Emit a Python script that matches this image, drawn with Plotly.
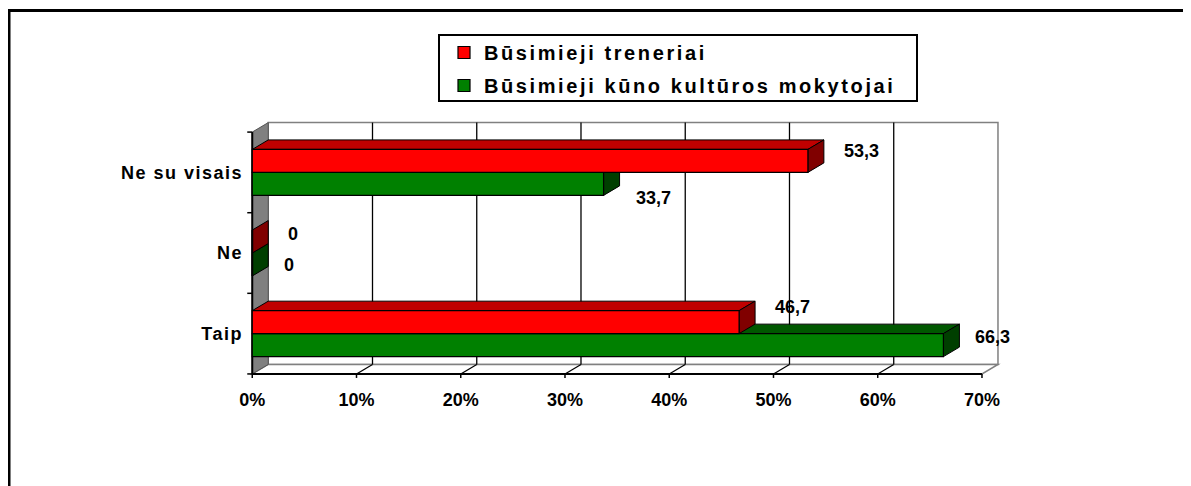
import plotly.graph_objects as go

# ---- data ----
categories = ["Taip", "Ne", "Ne su visais"]
treneriai = [46.7, 0, 53.3]          # Būsimieji treneriai (red)
mokytojai = [66.3, 0, 33.7]          # Būsimieji kūno kultūros mokytojai (green)
series_names = ["Būsimieji treneriai", "Būsimieji kūno kultūros mokytojai"]
x_ticks = [0, 10, 20, 30, 40, 50, 60, 70]

# ---- layout geometry ----
W, H = 1191, 486
OFF = 8                      # page body margin of the html page
L, T, PW, PH = 246 - OFF, 120 - OFF, 761, 262
XR = [-0.6, 72.4]
YR = [-0.6, 2.65]
XMAX = 70
px_x = PW / (XR[1] - XR[0])
px_y = PH / (YR[1] - YR[0])
DX = 16 / px_x          # depth offset in data units
DY = 9.5 / px_y
BW = 0.285              # bar thickness (category units)
LO, HI = -0.5, 2.5      # category boundaries

FONT = "Liberation Sans, Arial, sans-serif"
RED, RED_TOP, RED_SIDE = "#FF0000", "#C00000", "#800000"
GRN, GRN_TOP, GRN_SIDE = "#008000", "#005800", "#003F00"
GRAY = "#808080"


def pxx(p):
    """page x pixel -> paper coordinate"""
    return (p - OFF - L) / PW


def pxy(p):
    """page y pixel -> paper coordinate"""
    return (T + PH - (p - OFF)) / PH


def poly(pts, fill, line="black", width=1, layer="below"):
    d = "M " + " L ".join(f"{x},{y}" for x, y in pts) + " Z"
    return dict(type="path", path=d, xref="x", yref="y", fillcolor=fill,
                line=dict(color=line, width=width), layer=layer)


def seg(x0, y0, x1, y1, color="black", width=1, layer="below"):
    return dict(type="line", x0=x0, y0=y0, x1=x1, y1=y1, xref="x", yref="y",
                line=dict(color=color, width=width), layer=layer)


shapes = []
# back wall
shapes.append(poly([(DX, LO + DY), (XMAX + DX, LO + DY), (XMAX + DX, HI + DY), (DX, HI + DY)],
                   "white", GRAY, 1.5))
# floor
shapes.append(poly([(0, LO), (XMAX, LO), (XMAX + DX, LO + DY), (DX, LO + DY)], "white", GRAY, 1.5))
# back-wall gridlines and floor lines
for t in x_ticks[1:-1]:
    shapes.append(seg(t + DX, LO + DY, t + DX, HI + DY, "black", 1.3))
    shapes.append(seg(t, LO, t + DX, LO + DY, "black", 1.3))
# left wall
shapes.append(poly([(0, LO), (0, HI), (DX, HI + DY), (DX, LO + DY)], GRAY, "#555555", 1))

# 3D faces of bars (green first, then red)
for vals, top, side, off in ((mokytojai, GRN_TOP, GRN_SIDE, -BW), (treneriai, RED_TOP, RED_SIDE, 0.0)):
    for i, v in enumerate(vals):
        y0 = i + off
        y1 = y0 + BW
        if v > 0:
            shapes.append(poly([(0, y1), (v, y1), (v + DX, y1 + DY), (DX, y1 + DY)], top))
        shapes.append(poly([(v, y0), (v, y1), (v + DX, y1 + DY), (v + DX, y0 + DY)], side))

# axis lines and ticks
shapes.append(seg(0, LO, XMAX, LO, "black", 2))
shapes.append(seg(0, LO, 0, HI, "black", 2))
for t in x_ticks:
    shapes.append(seg(t, LO, t, LO - 4 / px_y, "black", 1.5))
for b in [LO, 0.5, 1.5, HI]:
    shapes.append(seg(-5 / px_x, b, 0, b, "black", 1.5))

# outer frame and legend box (paper)
shapes.append(dict(type="rect", xref="paper", yref="paper", x0=pxx(9), y0=pxy(10.5), x1=pxx(1210),
                   y1=pxy(520), line=dict(color="black", width=3), layer="below"))
shapes.append(dict(type="rect", xref="paper", yref="paper", x0=pxx(439), y0=pxy(35), x1=pxx(917),
                   y1=pxy(101), line=dict(color="black", width=2), fillcolor="rgba(0,0,0,0)",
                   layer="above"))

fig = go.Figure()
fig.add_trace(go.Bar(
    y=list(range(len(categories))), x=mokytojai, orientation="h", width=BW, offset=-BW,
    marker=dict(color=GRN, line=dict(color="black", width=1.2)),
    name=f'<span style="letter-spacing:2.6px">{series_names[1]}</span>',
    legendgroup="g", legendrank=2, hoverinfo="skip"))
fig.add_trace(go.Bar(
    y=list(range(len(categories))), x=treneriai, orientation="h", width=BW, offset=0,
    marker=dict(color=RED, line=dict(color="black", width=1.2)),
    name=f'<span style="letter-spacing:2.6px">{series_names[0]}</span>',
    legendgroup="r", legendrank=1, hoverinfo="skip"))

# data labels
label_shift = {("r", 0): 15, ("r", 1): 8, ("r", 2): 10, ("g", 0): 8, ("g", 1): 0, ("g", 2): -14}
annotations = []
for key, vals, off, xs in (("r", treneriai, 0.0, 34), ("g", mokytojai, -BW, 30)):
    for i, v in enumerate(vals):
        annotations.append(dict(
            x=v, y=i + off + BW / 2, xref="x", yref="y", text=f"{v:g}".replace(".", ","),
            showarrow=False, xanchor="left", yanchor="middle", xshift=xs,
            yshift=label_shift[(key, i)],
            font=dict(family=FONT, size=18, color="black", weight="bold")))

fig.update_layout(
    width=W, height=H, margin=dict(l=L, r=W - L - PW, t=T, b=H - T - PH),
    paper_bgcolor="white", plot_bgcolor="white",
    barmode="overlay", shapes=shapes, annotations=annotations,
    font=dict(family=FONT, size=18, color="black", weight="bold"),
    legend=dict(x=pxx(444), y=pxy(33), xanchor="left", yanchor="top",
                bgcolor="rgba(0,0,0,0)", borderwidth=0, tracegroupgap=4,
                font=dict(family=FONT, size=20, color="black", weight="bold")),
    xaxis=dict(range=XR, tickvals=x_ticks, ticktext=[f"{t}%" for t in x_ticks],
               showgrid=False, zeroline=False, showline=False, ticks="",
               ticklabelstandoff=5, fixedrange=True),
    yaxis=dict(range=YR, tickvals=list(range(len(categories))),
               ticktext=[f'<span style="letter-spacing:1.5px">{c}</span>' for c in categories],
               showgrid=False, zeroline=False, showline=False, ticks="",
               ticklabelstandoff=2, fixedrange=True),
)
fig.write_html("out.html")
